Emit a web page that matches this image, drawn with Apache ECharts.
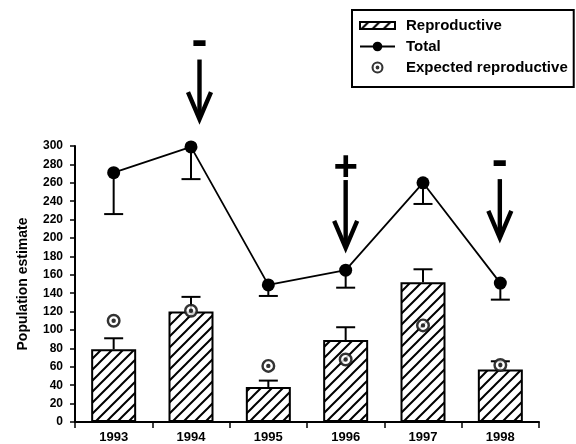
<!DOCTYPE html>
<html>
<head>
<meta charset="utf-8">
<script src="https://cdn.jsdelivr.net/npm/echarts@6/dist/echarts.min.js"></script>
<style>
  html, body { margin: 0; padding: 0; background: #fff; }
  #chart { width: 576px; height: 444px; }
</style>
</head>
<body>
<div id="chart"></div>
<script>
// ---- data ----
const years = ['1993', '1994', '1995', '1996', '1997', '1998'];
const reproductive = [79, 120, 38, 89, 152, 57];
const reproductiveUpper = [91, 136, 45, 103, 166, 66];
const total = [271, 299, 149, 165, 260, 151];
const totalLower = [226, 264, 137, 146, 237, 133];
const expectedReproductive = [110, 121, 61, 68, 105, 62];
const yMin = 0, yMax = 300, yInterval = 20;
const arrowYears = ['1994', '1996', '1998'];
const arrowSigns = ['-', '+', '-'];
const arrowTop = [394, 263, 264];
const arrowTip = [327, 187, 198];

// ---- styles ----
const FONT = "'Liberation Sans', Arial, Helvetica, sans-serif";
const arrowDx = { '1994': 8.5, '1996': 0, '1998': -0.5 };
const signGap = { '-': 16.5, '+': 12 };

function hatchPattern() {
  const s = 11;
  const c = document.createElement('canvas');
  c.width = s; c.height = s;
  const ctx = c.getContext('2d');
  ctx.fillStyle = '#fff';
  ctx.fillRect(0, 0, s, s);
  ctx.strokeStyle = '#000';
  ctx.lineWidth = 2;
  ctx.beginPath();
  ctx.moveTo(-1, s + 1); ctx.lineTo(s + 1, -1);
  ctx.moveTo(-2, 2); ctx.lineTo(2, -2);
  ctx.moveTo(s - 2, s + 2); ctx.lineTo(s + 2, s - 2);
  ctx.stroke();
  return { image: c, repeat: 'repeat' };
}

const ringPath = 'path://M0,12 A12,12 0 1,0 24,12 A12,12 0 1,0 0,12 Z ' +
  'M4.2,12 A7.8,7.8 0 1,1 19.8,12 A7.8,7.8 0 1,1 4.2,12 Z ' +
  'M8.2,12 A3.8,3.8 0 1,0 15.8,12 A3.8,3.8 0 1,0 8.2,12 Z';

const chart = echarts.init(document.getElementById('chart'), null, { renderer: 'canvas' });

function errRender() {
  return function (params, api) {
    const i = api.value(0);
    const p0 = api.coord([i, api.value(1)]);
    const p1 = api.coord([i, api.value(2)]);
    return {
      type: 'group',
      children: [
        { type: 'line', shape: { x1: p0[0], y1: p0[1], x2: p1[0], y2: p1[1] },
          style: { stroke: '#000', lineWidth: 2 } },
        { type: 'line', shape: { x1: p1[0] - 9.5, y1: p1[1], x2: p1[0] + 9.5, y2: p1[1] },
          style: { stroke: '#000', lineWidth: 2 } }
      ]
    };
  };
}

const option = {
  animation: false,
  backgroundColor: '#fff',
  grid: { left: 75, right: 37, top: 146, bottom: 17.5, containLabel: false },
  legend: {
    orient: 'vertical',
    left: 352,
    top: 10,
    padding: [8, 6, 12, 7],
    itemGap: 6,
    itemWidth: 35,
    itemHeight: 12,
    borderColor: '#000',
    borderWidth: 2,
    backgroundColor: '#fff',
    selectedMode: false,
    textStyle: { fontFamily: FONT, fontWeight: 'bold', fontSize: 15, color: '#000', padding: [0, 0, 0, 6] },
    data: [
      { name: 'Reproductive', icon: 'path://M0,0h35v7h-35z' },
      { name: 'Total' },
      { name: 'Expected reproductive', icon: ringPath }
    ]
  },
  xAxis: {
    type: 'category',
    data: years,
    boundaryGap: true,
    axisLine: { lineStyle: { color: '#000', width: 2 } },
    axisTick: { show: true, length: 6, lineStyle: { color: '#000', width: 1.5 } },
    axisLabel: { color: '#000', fontFamily: FONT, fontWeight: 'bold', fontSize: 13, margin: 9 }
  },
  yAxis: {
    type: 'value',
    min: yMin, max: yMax, interval: yInterval,
    name: 'Population estimate',
    nameLocation: 'middle',
    nameGap: 45,
    nameTextStyle: { color: '#000', fontFamily: FONT, fontWeight: 'bold', fontSize: 14 },
    axisLine: { show: true, lineStyle: { color: '#000', width: 2 } },
    axisTick: { show: true, length: 5, lineStyle: { color: '#000', width: 1.5 } },
    splitLine: { show: false },
    axisLabel: { color: '#000', fontFamily: FONT, fontWeight: 'bold', fontSize: 12, margin: 12 }
  },
  series: [
    {
      name: 'ReproductiveErr',
      type: 'custom',
      renderItem: errRender(),
      encode: { x: 0, y: [1, 2] },
      data: years.map((y, i) => [i, reproductive[i], reproductiveUpper[i]]),
      z: 1
    },
    {
      name: 'Reproductive',
      type: 'bar',
      data: reproductive,
      barWidth: 45,
      itemStyle: { color: hatchPattern(), borderColor: '#000', borderWidth: 2 },
      z: 2
    },
    {
      name: 'TotalErr',
      type: 'custom',
      renderItem: errRender(),
      encode: { x: 0, y: [1, 2] },
      data: years.map((y, i) => [i, total[i], totalLower[i]]),
      z: 3
    },
    {
      name: 'Total',
      type: 'line',
      data: total,
      symbol: 'circle',
      symbolSize: 13,
      lineStyle: { color: '#000', width: 1.8 },
      itemStyle: { color: '#000' },
      z: 4
    },
    {
      name: 'expBg',
      type: 'scatter',
      data: expectedReproductive,
      symbol: 'circle',
      symbolSize: 13,
      itemStyle: { color: '#fff' },
      z: 5
    },
    {
      name: 'Expected reproductive',
      type: 'scatter',
      data: expectedReproductive,
      symbol: ringPath,
      symbolSize: 14,
      itemStyle: { color: '#000' },
      z: 6
    },
    {
      name: 'arrows',
      type: 'custom',
      clip: false,
      renderItem: function (params, api) {
        const idx = params.dataIndex;
        const yr = arrowYears[idx];
        const ci = years.indexOf(yr);
        const pTop = api.coord([ci, arrowTop[idx]]);
        const pTip = api.coord([ci, arrowTip[idx]]);
        const x = pTop[0] + arrowDx[yr];
        const headH = 29, headW = 11.5;
        const sign = arrowSigns[idx];
        return {
          type: 'group',
          children: [
            { type: 'line', shape: { x1: x, y1: pTop[1], x2: x, y2: pTip[1] - 3 },
              style: { stroke: '#000', lineWidth: 4.4 } },
            { type: 'polyline', shape: { points: [[x - headW, pTip[1] - headH], [x, pTip[1] - 2], [x + headW, pTip[1] - headH]] },
              style: { stroke: '#000', lineWidth: 4.4, fill: null, lineJoin: 'miter' } },
            { type: 'text', x: x, y: pTop[1] - signGap[sign],
              style: { text: sign, fontFamily: FONT, fontWeight: 'bold',
                       fontSize: sign === '+' ? 42 : 48,
                       fill: '#000', align: 'center', verticalAlign: 'middle' } }
          ]
        };
      },
      data: arrowYears.map((y, i) => [years.indexOf(y), arrowTop[i], arrowTip[i]]),
      z: 7
    }
  ]
};
chart.setOption(option);
</script>
</body>
</html>
